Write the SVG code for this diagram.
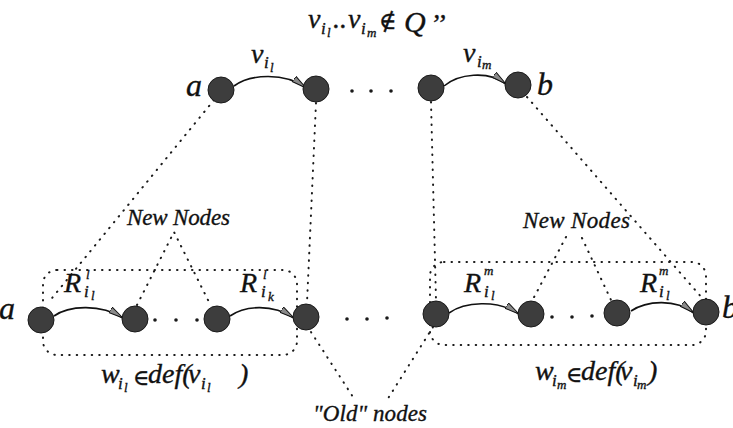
<svg xmlns="http://www.w3.org/2000/svg" width="733" height="428" viewBox="0 0 733 428">
<defs>
<marker id="ah" markerUnits="userSpaceOnUse" markerWidth="18" markerHeight="10" refX="15" refY="4" orient="auto">
<path d="M0,0.8 L15,4 L0,7.2 z" fill="#8a8a8a" stroke="#111" stroke-width="1"/>
</marker>
</defs>
<style>
.bg{fill:#fff}
.dot{fill:none;stroke:#1a1a1a;stroke-width:2;stroke-dasharray:0.5 7;stroke-linecap:round}
.arc{fill:none;stroke:#111;stroke-width:1.6;marker-end:url(#ah)}
.nd{fill:#3d3d3d;stroke:#1a1a1a;stroke-width:1}
.sd{fill:#1a1a1a}
text{font-family:"Liberation Serif","DejaVu Serif",serif;font-style:italic;fill:#111;stroke:#111;stroke-width:0.35}
.m{font-size:28px}
.big{font-size:32px}
.s{font-size:17px}
.ss{font-size:13px}
.lbl{font-size:23px}
</style>
<rect class="bg" x="0" y="0" width="733" height="428"/>

<g id="connectors">
<line class="dot" x1="214" y1="100" x2="48" y2="303"/>
<line class="dot" x1="316" y1="103" x2="307" y2="303"/>
<line class="dot" x1="431" y1="102" x2="436" y2="300"/>
<line class="dot" x1="527" y1="97" x2="703" y2="299"/>
<polyline class="dot" points="137,305 174,232 210,304"/>
<line class="dot" x1="566" y1="237" x2="532" y2="301"/>
<line class="dot" x1="582" y1="238" x2="611" y2="300"/>
<line class="dot" x1="311" y1="332" x2="355" y2="400"/>
<line class="dot" x1="433" y1="327" x2="387" y2="400"/>
<rect class="dot" x="43" y="270" width="254" height="85" rx="14"/>
<rect class="dot" x="430" y="262" width="276" height="83" rx="14"/>
<path class="arc" d="M234,86 C250,74 285,72 306,88"/>
<path class="arc" d="M444,86 C458,74 488,70 506,84"/>
<path class="arc" d="M54,316 C68,306 100,303 123,318"/>
<path class="arc" d="M230,316 C244,306 272,303 294,318"/>
<path class="arc" d="M449,313 C464,302 497,299 519,314"/>
<path class="arc" d="M631,311 C646,301 675,298 694,313"/>
</g>

<g id="top-a"><circle class="nd" cx="221" cy="90" r="13"/><text class="big" x="186" y="96">a</text></g>
<g id="top-2"><circle class="nd" cx="316" cy="89" r="13"/></g>
<g id="top-dots"><circle class="sd" cx="352" cy="91" r="1.8"/><circle class="sd" cx="371" cy="91" r="1.8"/><circle class="sd" cx="391" cy="91" r="1.8"/></g>
<g id="top-3"><circle class="nd" cx="431" cy="88" r="13"/></g>
<g id="top-b"><circle class="nd" cx="518" cy="85" r="13"/><text class="big" x="537" y="95">b</text></g>

<g id="bot-a"><circle class="nd" cx="41" cy="320" r="13"/><text class="big" x="-1" y="319">a</text></g>
<g id="bot-2"><circle class="nd" cx="135" cy="319" r="13"/></g>
<g id="bot-dots1"><circle class="sd" cx="155" cy="320" r="1.8"/><circle class="sd" cx="176" cy="320" r="1.8"/><circle class="sd" cx="197" cy="320" r="1.8"/></g>
<g id="bot-3"><circle class="nd" cx="217" cy="319" r="13"/></g>
<g id="bot-4"><circle class="nd" cx="306" cy="317" r="13"/></g>
<g id="bot-dots2"><circle class="sd" cx="347" cy="319" r="1.8"/><circle class="sd" cx="367" cy="319" r="1.8"/><circle class="sd" cx="387" cy="318" r="1.8"/></g>
<g id="bot-5"><circle class="nd" cx="436" cy="314" r="13"/></g>
<g id="bot-6"><circle class="nd" cx="531" cy="314" r="13"/></g>
<g id="bot-dots3"><circle class="sd" cx="552" cy="317" r="1.8"/><circle class="sd" cx="572" cy="317" r="1.8"/><circle class="sd" cx="592" cy="316" r="1.8"/></g>
<g id="bot-7"><circle class="nd" cx="617" cy="313" r="13"/></g>
<g id="bot-b"><circle class="nd" cx="706" cy="312" r="13"/><text class="big" x="722" y="318">b</text></g>

<g id="title">
<text class="m" x="308" y="28">v</text><text class="s" x="321" y="34">i</text><text class="ss" x="327" y="37">l</text>
<text class="m" x="333" y="28">..</text>
<text class="m" x="348" y="28">v</text><text class="s" x="361" y="34">i</text><text class="ss" x="367" y="37">m</text>
<text style="font-size:24px;font-style:normal" x="379" y="29">∉</text>
<text style="font-size:30px" x="404" y="32">Q</text>
<text style="font-size:28px" x="430" y="33">’’</text>
</g>
<g id="lbl-vi1"><text class="m" x="251" y="63">v</text><text class="s" x="264" y="68">i</text><text class="ss" x="270" y="72">l</text></g>
<g id="lbl-vim"><text class="m" x="463" y="62">v</text><text class="s" x="477" y="67">i</text><text class="ss" x="482" y="69">m</text></g>

<g id="lbl-R1"><text class="m" x="64" y="292">R</text><text class="ss" x="86" y="279">l</text><text class="s" x="84" y="297">i</text><text class="ss" x="91" y="300">l</text></g>
<g id="lbl-R2"><text class="m" x="240" y="292">R</text><text class="ss" x="263" y="279">l</text><text class="s" x="261" y="297">i</text><text class="ss" x="268" y="301">k</text></g>
<g id="lbl-R3"><text class="m" x="464" y="292">R</text><text class="ss" x="484" y="275">m</text><text class="s" x="484" y="297">i</text><text class="ss" x="491" y="300">l</text></g>
<g id="lbl-R4"><text class="m" x="640" y="292">R</text><text class="ss" x="659" y="275">m</text><text class="s" x="659" y="297">i</text><text class="ss" x="666" y="300">l</text></g>

<g id="lbl-new1"><text class="lbl" x="127" y="225" textLength="103">New Nodes</text></g>
<g id="lbl-new2"><text class="lbl" x="523" y="228" textLength="107">New Nodes</text></g>
<g id="lbl-old"><text class="lbl" x="313" y="421" textLength="114">"Old" nodes</text></g>

<g id="lbl-w1">
<text class="m" x="101" y="383">w</text><text class="s" x="118" y="389">i</text><text class="ss" x="124" y="392">l</text>
<text style="font-size:22px;font-style:normal" x="133" y="385">∈</text>
<text class="m" x="148" y="383">def(</text>
<text class="m" x="188" y="383">v</text><text class="s" x="201" y="389">i</text><text class="ss" x="207" y="392">l</text>
<text class="m" x="239" y="383">)</text>
</g>
<g id="lbl-w2">
<text class="m" x="535" y="380">w</text><text class="s" x="552" y="386">i</text><text class="ss" x="557" y="389">m</text>
<text style="font-size:22px;font-style:normal" x="566" y="382">∈</text>
<text class="m" x="581" y="380">def(</text>
<text class="m" x="620" y="380">v</text><text class="s" x="633" y="386">i</text><text class="ss" x="637" y="389">m</text>
<text class="m" x="648" y="380">)</text>
</g>
</svg>
